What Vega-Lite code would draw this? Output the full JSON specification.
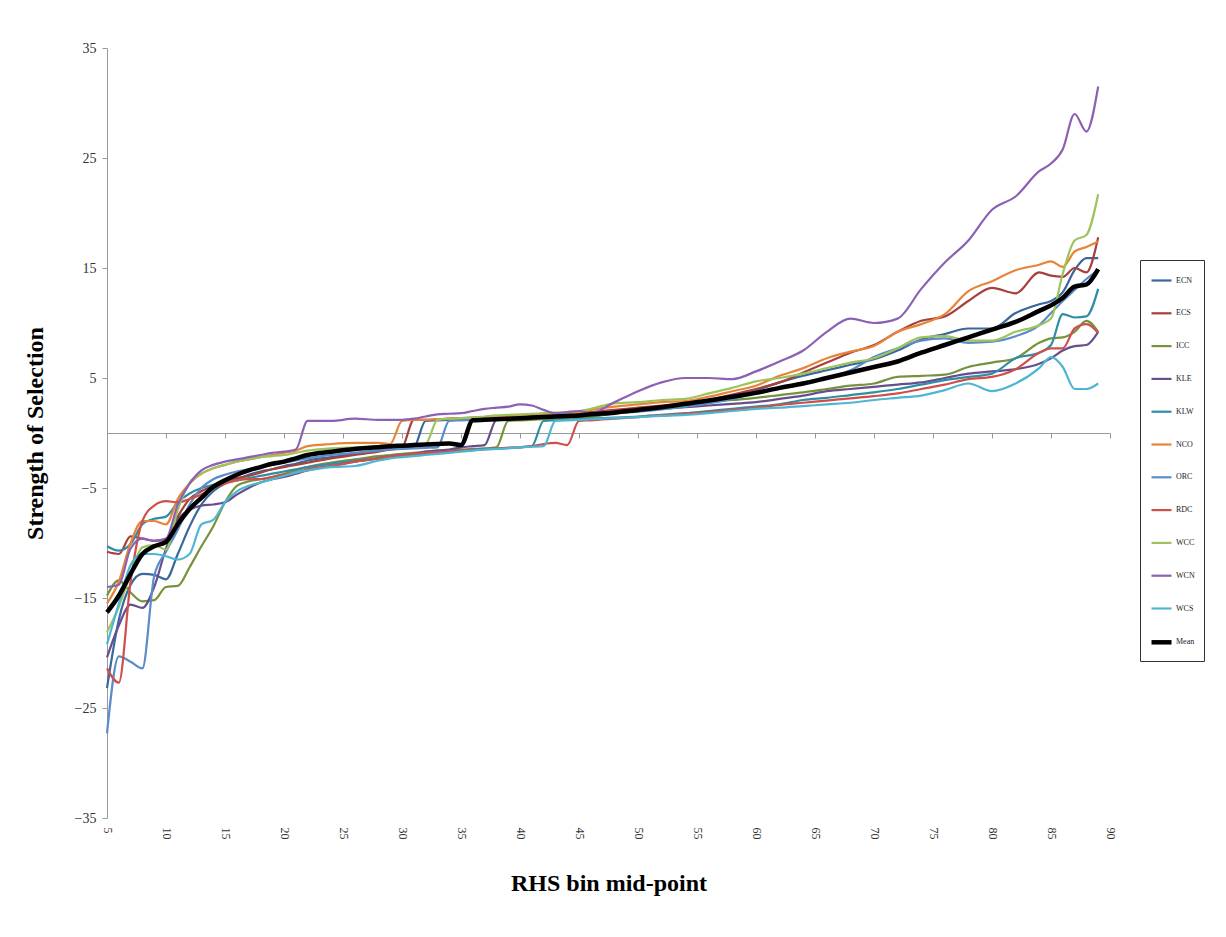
{
  "$schema": "https://vega.github.io/schema/vega-lite/v6.json",
  "width": 1003,
  "height": 770,
  "autosize": {"type": "none"},
  "padding": {"left": 107, "top": 48, "right": 116, "bottom": 119},
  "background": "white",
  "config": {"view": {"stroke": null}, "font": "Liberation Serif"},
  "data": {"values": [
    {"x":5,"ECN":-23.2,"ECS":-10.8,"ICC":-14.8,"KLE":-20.4,"KLW":-10.3,"NCO":-15.5,"ORC":-27.3,"RDC":-21.4,"WCC":-18.1,"WCN":-14.0,"WCS":-19.2,"Mean":-16.3},
    {"x":6,"ECN":-17.0,"ECS":-11.0,"ICC":-13.4,"KLE":-17.5,"KLW":-10.7,"NCO":-13.5,"ORC":-20.3,"RDC":-22.7,"WCC":-15.8,"WCN":-13.8,"WCS":-15.5,"Mean":-14.8},
    {"x":7,"ECN":-13.8,"ECS":-9.4,"ICC":-14.5,"KLE":-15.6,"KLW":-10.1,"NCO":-10.0,"ORC":-20.8,"RDC":-13.5,"WCC":-12.8,"WCN":-10.5,"WCS":-12.0,"Mean":-12.8},
    {"x":8,"ECN":-12.8,"ECS":-9.6,"ICC":-15.3,"KLE":-15.9,"KLW":-8.3,"NCO":-8.0,"ORC":-21.4,"RDC":-8.0,"WCC":-10.4,"WCN":-9.6,"WCS":-11.0,"Mean":-11.0},
    {"x":9,"ECN":-12.9,"ECS":-9.8,"ICC":-15.2,"KLE":-14.0,"KLW":-7.8,"NCO":-8.0,"ORC":-13.0,"RDC":-6.6,"WCC":-10.2,"WCN":-9.8,"WCS":-11.0,"Mean":-10.3},
    {"x":10,"ECN":-13.3,"ECS":-9.7,"ICC":-14.0,"KLE":-10.5,"KLW":-7.6,"NCO":-8.3,"ORC":-10.8,"RDC":-6.2,"WCC":-10.6,"WCN":-9.6,"WCS":-11.2,"Mean":-9.9},
    {"x":11,"ECN":-11.0,"ECS":-7.6,"ICC":-13.9,"KLE":-7.9,"KLW":-6.3,"NCO":-6.0,"ORC":-8.8,"RDC":-6.3,"WCC":-7.0,"WCN":-6.5,"WCS":-11.5,"Mean":-8.3},
    {"x":12,"ECN":-8.5,"ECS":-6.0,"ICC":-12.2,"KLE":-7.0,"KLW":-5.5,"NCO":-4.6,"ORC":-6.5,"RDC":-6.0,"WCC":-4.5,"WCN":-4.6,"WCS":-11.0,"Mean":-6.9},
    {"x":13,"ECN":-6.5,"ECS":-5.3,"ICC":-10.3,"KLE":-6.6,"KLW":-5.0,"NCO":-3.7,"ORC":-5.0,"RDC":-5.6,"WCC":-3.7,"WCN":-3.4,"WCS":-8.3,"Mean":-5.9},
    {"x":14,"ECN":-5.3,"ECS":-4.8,"ICC":-8.5,"KLE":-6.5,"KLW":-4.7,"NCO":-3.2,"ORC":-4.2,"RDC":-5.0,"WCC":-3.2,"WCN":-2.9,"WCS":-7.9,"Mean":-4.9},
    {"x":15,"ECN":-4.6,"ECS":-4.4,"ICC":-6.3,"KLE":-6.3,"KLW":-4.5,"NCO":-2.9,"ORC":-3.8,"RDC":-4.6,"WCC":-2.9,"WCN":-2.6,"WCS":-6.3,"Mean":-4.3},
    {"x":16,"ECN":-4.2,"ECS":-4.1,"ICC":-4.8,"KLE":-5.6,"KLW":-4.3,"NCO":-2.6,"ORC":-3.5,"RDC":-4.3,"WCC":-2.6,"WCN":-2.4,"WCS":-5.3,"Mean":-3.8},
    {"x":17,"ECN":-3.8,"ECS":-3.9,"ICC":-4.4,"KLE":-5.0,"KLW":-4.1,"NCO":-2.4,"ORC":-3.3,"RDC":-4.2,"WCC":-2.4,"WCN":-2.2,"WCS":-4.8,"Mean":-3.4},
    {"x":18,"ECN":-3.5,"ECS":-3.6,"ICC":-4.2,"KLE":-4.5,"KLW":-3.9,"NCO":-2.2,"ORC":-3.1,"RDC":-4.2,"WCC":-2.2,"WCN":-2.0,"WCS":-4.5,"Mean":-3.1},
    {"x":19,"ECN":-3.3,"ECS":-3.3,"ICC":-4.0,"KLE":-4.2,"KLW":-3.7,"NCO":-2.0,"ORC":-2.9,"RDC":-4.0,"WCC":-2.1,"WCN":-1.8,"WCS":-4.2,"Mean":-2.8},
    {"x":20,"ECN":-3.0,"ECS":-3.1,"ICC":-3.7,"KLE":-4.0,"KLW":-3.5,"NCO":-1.8,"ORC":-2.7,"RDC":-3.8,"WCC":-2.0,"WCN":-1.7,"WCS":-3.9,"Mean":-2.6},
    {"x":21,"ECN":-2.8,"ECS":-2.9,"ICC":-3.4,"KLE":-3.7,"KLW":-3.3,"NCO":-1.6,"ORC":-2.5,"RDC":-3.6,"WCC":-1.8,"WCN":-1.5,"WCS":-3.6,"Mean":-2.3},
    {"x":22,"ECN":-2.5,"ECS":-2.7,"ICC":-3.1,"KLE":-3.4,"KLW":-3.1,"NCO":-1.2,"ORC":-2.3,"RDC":-3.3,"WCC":-1.6,"WCN":1.1,"WCS":-3.4,"Mean":-2.0},
    {"x":24,"ECN":-2.2,"ECS":-2.3,"ICC":-2.7,"KLE":-3.0,"KLW":-2.8,"NCO":-1.0,"ORC":-2.0,"RDC":-3.0,"WCC":-1.4,"WCN":1.1,"WCS":-3.1,"Mean":-1.7},
    {"x":26,"ECN":-1.9,"ECS":-2.0,"ICC":-2.4,"KLE":-2.6,"KLW":-2.5,"NCO":-0.9,"ORC":-1.8,"RDC":-2.6,"WCC":-1.3,"WCN":1.3,"WCS":-3.0,"Mean":-1.45},
    {"x":28,"ECN":-1.6,"ECS":-1.7,"ICC":-2.1,"KLE":-2.3,"KLW":-2.3,"NCO":-0.9,"ORC":-1.6,"RDC":-2.3,"WCC":-1.2,"WCN":1.2,"WCS":-2.5,"Mean":-1.3},
    {"x":29,"ECN":-1.5,"ECS":-1.5,"ICC":-2.0,"KLE":-2.1,"KLW":-2.2,"NCO":-1.0,"ORC":-1.5,"RDC":-2.1,"WCC":-1.15,"WCN":1.2,"WCS":-2.3,"Mean":-1.2},
    {"x":30,"ECN":-1.4,"ECS":-1.3,"ICC":-1.9,"KLE":-2.0,"KLW":-2.1,"NCO":1.1,"ORC":-1.45,"RDC":-2.0,"WCC":-1.1,"WCN":1.2,"WCS":-2.2,"Mean":-1.15},
    {"x":31,"ECN":-1.3,"ECS":1.2,"ICC":-1.8,"KLE":-1.9,"KLW":-2.0,"NCO":1.2,"ORC":-1.4,"RDC":-1.9,"WCC":-1.05,"WCN":1.3,"WCS":-2.1,"Mean":-1.1},
    {"x":32,"ECN":1.1,"ECS":1.2,"ICC":-1.7,"KLE":-1.7,"KLW":-1.9,"NCO":1.2,"ORC":-1.35,"RDC":-1.8,"WCC":-1.0,"WCN":1.5,"WCS":-2.0,"Mean":-1.05},
    {"x":33,"ECN":1.15,"ECS":1.25,"ICC":-1.6,"KLE":-1.6,"KLW":-1.8,"NCO":1.25,"ORC":-1.3,"RDC":-1.75,"WCC":1.2,"WCN":1.7,"WCS":-1.9,"Mean":-1.0},
    {"x":34,"ECN":1.2,"ECS":1.3,"ICC":-1.55,"KLE":-1.5,"KLW":-1.7,"NCO":1.3,"ORC":1.1,"RDC":-1.7,"WCC":1.3,"WCN":1.75,"WCS":-1.8,"Mean":-0.95},
    {"x":35,"ECN":1.25,"ECS":1.35,"ICC":-1.5,"KLE":-1.3,"KLW":-1.6,"NCO":1.3,"ORC":1.15,"RDC":-1.6,"WCC":1.35,"WCN":1.8,"WCS":-1.7,"Mean":-1.1},
    {"x":36,"ECN":1.3,"ECS":1.4,"ICC":-1.45,"KLE":-1.2,"KLW":-1.5,"NCO":1.35,"ORC":1.2,"RDC":-1.55,"WCC":1.4,"WCN":2.0,"WCS":-1.6,"Mean":1.15},
    {"x":37,"ECN":1.35,"ECS":1.45,"ICC":-1.4,"KLE":-1.1,"KLW":-1.45,"NCO":1.4,"ORC":1.25,"RDC":-1.5,"WCC":1.5,"WCN":2.2,"WCS":-1.5,"Mean":1.2},
    {"x":38,"ECN":1.4,"ECS":1.5,"ICC":-1.3,"KLE":1.2,"KLW":-1.4,"NCO":1.45,"ORC":1.3,"RDC":-1.4,"WCC":1.6,"WCN":2.3,"WCS":-1.45,"Mean":1.25},
    {"x":39,"ECN":1.45,"ECS":1.55,"ICC":1.1,"KLE":1.3,"KLW":-1.35,"NCO":1.5,"ORC":1.35,"RDC":-1.35,"WCC":1.65,"WCN":2.4,"WCS":-1.4,"Mean":1.3},
    {"x":40,"ECN":1.5,"ECS":1.6,"ICC":1.15,"KLE":1.35,"KLW":-1.3,"NCO":1.55,"ORC":1.4,"RDC":-1.3,"WCC":1.7,"WCN":2.6,"WCS":-1.3,"Mean":1.35},
    {"x":41,"ECN":1.55,"ECS":1.65,"ICC":1.2,"KLE":1.4,"KLW":-1.2,"NCO":1.6,"ORC":1.45,"RDC":-1.2,"WCC":1.75,"WCN":2.5,"WCS":-1.25,"Mean":1.4},
    {"x":42,"ECN":1.6,"ECS":1.7,"ICC":1.25,"KLE":1.5,"KLW":1.1,"NCO":1.65,"ORC":1.5,"RDC":-1.0,"WCC":1.8,"WCN":2.1,"WCS":-1.2,"Mean":1.45},
    {"x":43,"ECN":1.65,"ECS":1.75,"ICC":1.3,"KLE":1.55,"KLW":1.15,"NCO":1.7,"ORC":1.55,"RDC":-0.9,"WCC":1.85,"WCN":1.8,"WCS":1.1,"Mean":1.5},
    {"x":44,"ECN":1.7,"ECS":1.8,"ICC":1.35,"KLE":1.6,"KLW":1.2,"NCO":1.8,"ORC":1.6,"RDC":-1.1,"WCC":1.9,"WCN":1.9,"WCS":1.15,"Mean":1.55},
    {"x":45,"ECN":1.75,"ECS":1.85,"ICC":1.4,"KLE":1.7,"KLW":1.25,"NCO":1.9,"ORC":1.65,"RDC":1.1,"WCC":2.0,"WCN":2.0,"WCS":1.2,"Mean":1.6},
    {"x":46,"ECN":1.8,"ECS":1.9,"ICC":1.45,"KLE":1.75,"KLW":1.3,"NCO":2.1,"ORC":1.7,"RDC":1.15,"WCC":2.2,"WCN":1.8,"WCS":1.25,"Mean":1.7},
    {"x":48,"ECN":2.0,"ECS":2.1,"ICC":1.8,"KLE":1.8,"KLW":1.4,"NCO":2.4,"ORC":1.8,"RDC":1.3,"WCC":2.7,"WCN":2.8,"WCS":1.35,"Mean":1.85},
    {"x":50,"ECN":2.2,"ECS":2.3,"ICC":2.0,"KLE":2.0,"KLW":1.5,"NCO":2.6,"ORC":1.95,"RDC":1.45,"WCC":2.8,"WCN":3.8,"WCS":1.45,"Mean":2.1},
    {"x":52,"ECN":2.4,"ECS":2.5,"ICC":2.3,"KLE":2.2,"KLW":1.65,"NCO":2.8,"ORC":2.15,"RDC":1.6,"WCC":3.0,"WCN":4.6,"WCS":1.55,"Mean":2.35},
    {"x":54,"ECN":2.7,"ECS":2.7,"ICC":2.55,"KLE":2.35,"KLW":1.8,"NCO":2.9,"ORC":2.4,"RDC":1.75,"WCC":3.1,"WCN":5.0,"WCS":1.65,"Mean":2.65},
    {"x":56,"ECN":3.0,"ECS":3.0,"ICC":2.8,"KLE":2.5,"KLW":2.0,"NCO":3.3,"ORC":2.7,"RDC":1.9,"WCC":3.6,"WCN":5.0,"WCS":1.8,"Mean":2.95},
    {"x":58,"ECN":3.4,"ECS":3.5,"ICC":3.0,"KLE":2.65,"KLW":2.2,"NCO":3.8,"ORC":3.1,"RDC":2.1,"WCC":4.1,"WCN":4.9,"WCS":2.0,"Mean":3.3},
    {"x":60,"ECN":3.9,"ECS":4.0,"ICC":3.2,"KLE":2.8,"KLW":2.4,"NCO":4.3,"ORC":3.6,"RDC":2.3,"WCC":4.7,"WCN":5.6,"WCS":2.2,"Mean":3.65},
    {"x":62,"ECN":4.6,"ECS":4.6,"ICC":3.45,"KLE":3.1,"KLW":2.6,"NCO":5.2,"ORC":4.1,"RDC":2.55,"WCC":5.0,"WCN":6.5,"WCS":2.3,"Mean":4.1},
    {"x":64,"ECN":5.2,"ECS":5.5,"ICC":3.7,"KLE":3.4,"KLW":3.0,"NCO":5.9,"ORC":4.6,"RDC":2.75,"WCC":5.4,"WCN":7.5,"WCS":2.45,"Mean":4.5},
    {"x":66,"ECN":5.7,"ECS":6.4,"ICC":4.0,"KLE":3.8,"KLW":3.2,"NCO":6.8,"ORC":5.0,"RDC":2.95,"WCC":5.9,"WCN":9.2,"WCS":2.6,"Mean":5.0},
    {"x":68,"ECN":6.2,"ECS":7.3,"ICC":4.3,"KLE":4.0,"KLW":3.45,"NCO":7.4,"ORC":5.7,"RDC":3.15,"WCC":6.4,"WCN":10.4,"WCS":2.75,"Mean":5.5},
    {"x":70,"ECN":6.7,"ECS":8.0,"ICC":4.5,"KLE":4.2,"KLW":3.7,"NCO":7.9,"ORC":6.9,"RDC":3.35,"WCC":6.8,"WCN":10.0,"WCS":3.0,"Mean":6.0},
    {"x":72,"ECN":7.5,"ECS":9.2,"ICC":5.1,"KLE":4.4,"KLW":4.0,"NCO":9.2,"ORC":7.7,"RDC":3.6,"WCC":7.7,"WCN":10.4,"WCS":3.2,"Mean":6.5},
    {"x":74,"ECN":8.5,"ECS":10.2,"ICC":5.2,"KLE":4.6,"KLW":4.4,"NCO":9.9,"ORC":8.4,"RDC":4.0,"WCC":8.7,"WCN":13.1,"WCS":3.4,"Mean":7.3},
    {"x":76,"ECN":9.0,"ECS":10.6,"ICC":5.3,"KLE":5.0,"KLW":4.8,"NCO":10.8,"ORC":8.6,"RDC":4.4,"WCC":8.8,"WCN":15.5,"WCS":3.9,"Mean":8.0},
    {"x":78,"ECN":9.5,"ECS":12.0,"ICC":6.0,"KLE":5.4,"KLW":5.1,"NCO":12.9,"ORC":8.2,"RDC":4.9,"WCC":8.4,"WCN":17.5,"WCS":4.5,"Mean":8.7},
    {"x":80,"ECN":9.5,"ECS":13.2,"ICC":6.4,"KLE":5.6,"KLW":5.4,"NCO":13.8,"ORC":8.3,"RDC":5.1,"WCC":8.4,"WCN":20.3,"WCS":3.8,"Mean":9.4},
    {"x":82,"ECN":10.9,"ECS":12.7,"ICC":6.8,"KLE":5.8,"KLW":6.8,"NCO":14.8,"ORC":8.8,"RDC":5.8,"WCC":9.2,"WCN":21.5,"WCS":4.5,"Mean":10.1},
    {"x":84,"ECN":11.7,"ECS":14.6,"ICC":8.2,"KLE":6.3,"KLW":7.3,"NCO":15.3,"ORC":9.8,"RDC":7.3,"WCC":9.8,"WCN":23.8,"WCS":5.9,"Mean":11.1},
    {"x":85,"ECN":12.0,"ECS":14.3,"ICC":8.6,"KLE":6.8,"KLW":8.0,"NCO":15.6,"ORC":10.9,"RDC":7.7,"WCC":10.4,"WCN":24.5,"WCS":6.9,"Mean":11.6},
    {"x":86,"ECN":12.8,"ECS":14.2,"ICC":8.7,"KLE":7.5,"KLW":10.8,"NCO":15.1,"ORC":12.0,"RDC":7.7,"WCC":14.5,"WCN":25.8,"WCS":6.0,"Mean":12.3},
    {"x":87,"ECN":14.8,"ECS":15.0,"ICC":9.2,"KLE":7.9,"KLW":10.5,"NCO":16.5,"ORC":13.0,"RDC":9.5,"WCC":17.5,"WCN":29.0,"WCS":4.0,"Mean":13.3},
    {"x":88,"ECN":15.9,"ECS":14.6,"ICC":10.2,"KLE":8.0,"KLW":10.6,"NCO":16.9,"ORC":14.0,"RDC":9.9,"WCC":18.0,"WCN":27.4,"WCS":4.0,"Mean":13.5},
    {"x":89,"ECN":15.9,"ECS":17.8,"ICC":9.2,"KLE":9.2,"KLW":13.1,"NCO":17.4,"ORC":14.8,"RDC":9.1,"WCC":21.7,"WCN":31.5,"WCS":4.5,"Mean":14.9}
  ]},
  "transform": [
    {"fold": ["ECN","ECS","ICC","KLE","KLW","NCO","ORC","RDC","WCC","WCN","WCS","Mean"], "as": ["series","value"]}
  ],
  "layer": [
    {
      "mark": {"type": "line", "interpolate": "monotone"},
      "encoding": {
        "x": {"field": "x", "type": "quantitative",
          "scale": {"domain": [5, 90], "nice": false, "zero": false},
          "axis": {"orient": "bottom", "values": [5,10,15,20,25,30,35,40,45,50,55,60,65,70,75,80,85,90],
            "labelAngle": 90, "labelAlign": "left", "labelBaseline": "middle", "labelFontSize": 12, "labelPadding": 9,
            "labelFont": "Liberation Serif", "labelColor": "#333", "domain": false, "ticks": false, "grid": false,
            "title": "RHS bin mid-point", "titleFont": "Liberation Serif", "titleFontSize": 24, "titleFontWeight": "bold",
            "titleColor": "#000", "titlePadding": 32}},
        "y": {"field": "value", "type": "quantitative",
          "scale": {"domain": [-35, 35], "nice": false, "zero": false},
          "axis": {"values": [-35,-25,-15,-5,5,15,25,35], "labelFontSize": 14, "labelFont": "Liberation Serif",
            "labelColor": "#333", "labelPadding": 6, "domainColor": "#999", "tickColor": "#999", "tickSize": 5, "grid": false,
            "title": "Strength of Selection", "titleFont": "Liberation Serif", "titleFontSize": 24, "titleFontWeight": "bold",
            "titleColor": "#000", "titlePadding": 27}},
        "color": {"field": "series", "type": "nominal",
          "scale": {"domain": ["ECN","ECS","ICC","KLE","KLW","NCO","ORC","RDC","WCC","WCN","WCS","Mean"],
            "range": ["#3A679C","#A8403D","#76923C","#664E8C","#2F8EA6","#E8843A","#5A8BCB","#CF4F4B","#9DC35C","#8B61B3","#4DB6D3","#000000"]},
          "legend": {"title": null, "orient": "none", "legendX": 1033, "legendY": 212, "symbolType": "stroke", "symbolSize": 400,
            "labelFont": "Liberation Serif", "labelFontSize": 8, "labelColor": "#222", "labelOffset": 2, "strokeColor": "#333",
            "fillColor": "white", "padding": 9, "rowPadding": 16.8}},
        "strokeWidth": {"field": "series", "type": "nominal",
          "scale": {"type": "ordinal", "domain": ["ECN","ECS","ICC","KLE","KLW","NCO","ORC","RDC","WCC","WCN","WCS","Mean"],
            "range": [2.2,2.2,2.2,2.2,2.2,2.2,2.2,2.2,2.2,2.2,2.2,4.5]},
          "legend": {"title": null, "orient": "none", "legendX": 1033, "legendY": 212, "symbolType": "stroke", "symbolSize": 400,
            "labelFont": "Liberation Serif", "labelFontSize": 8, "labelColor": "#222", "labelOffset": 2, "strokeColor": "#333",
            "fillColor": "white", "padding": 9, "rowPadding": 16.8}}
      }
    },
    {
      "mark": {"type": "rule", "opacity": 0},
      "encoding": {
        "x": {"field": "x", "type": "quantitative",
          "axis": {"orient": "bottom", "offset": -385, "values": [5,10,15,20,25,30,35,40,45,50,55,60,65,70,75,80,85,90],
            "labels": false, "title": null, "domain": true, "domainColor": "#999", "ticks": true, "tickSize": 5,
            "tickColor": "#999", "grid": false}}
      }
    }
  ],
  "resolve": {"axis": {"x": "independent"}}
}
